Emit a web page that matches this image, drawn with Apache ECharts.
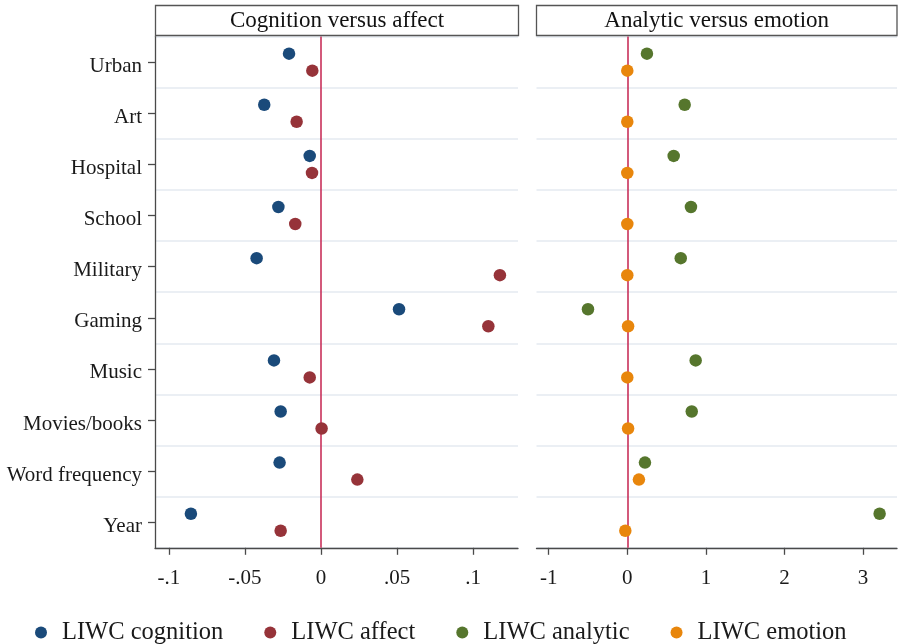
<!DOCTYPE html>
<html>
<head>
<meta charset="utf-8">
<script src="https://cdn.jsdelivr.net/npm/echarts@6/dist/echarts.min.js"></script>
<style>html,body{margin:0;padding:0;background:#fff}#c{width:898px;height:644px}</style>
</head>
<body>
<div id="c"></div>
<script>
const categories = ['Urban','Art','Hospital','School','Military','Gaming','Music','Movies/books','Word frequency','Year'];
const cognition = [-0.021,-0.0373,-0.0074,-0.028,-0.0423,0.0513,-0.0309,-0.0265,-0.0272,-0.0855];
const affect = [-0.0057,-0.016,-0.0059,-0.0169,0.1176,0.110,-0.0074,0.0004,0.0239,-0.0265];
const analytic = [0.25,0.73,0.59,0.81,0.68,-0.50,0.87,0.82,0.225,3.21];
const emotion = [0.0,0.0,0.0,0.0,0.0,0.01,0.0,0.01,0.148,-0.025];
const leftTicks = [-0.1,-0.05,0,0.05,0.1];
const rightTicks = [-1,0,1,2,3];
const panelTitles = ['Cognition versus affect','Analytic versus emotion'];
const seriesNames = ['LIWC cognition','LIWC affect','LIWC analytic','LIWC emotion'];

const FONT = 'Liberation Serif';
const AX = '#4a4a4a';
const GRIDC = '#e5eaf1';
const ZERO = '#c8305a';
const colors = ['#1a4a7a','#963339','#56762d','#e8860c'];

const chart = echarts.init(document.getElementById('c'), null, {renderer:'canvas'});

function fmtLeft(v){
  let s = String(+(+v).toFixed(3));
  return s.replace('0.', '.');
}

const yBase = {
  type:'category', data:categories, inverse:true, boundaryGap:true,
  axisLine:{show:true, onZero:false, lineStyle:{color:AX, width:1.3}},
  axisTick:{show:true, alignWithLabel:true, length:7, lineStyle:{color:AX, width:1.3}},
  axisLabel:{show:true, fontFamily:FONT, fontSize:21, color:'#1a1a1a', margin:13, verticalAlign:'top', lineHeight:8},
  splitLine:{show:true, lineStyle:{color:GRIDC, width:1.5}}
};

const option = {
  animation:false,
  backgroundColor:'#fff',
  textStyle:{fontFamily:FONT},
  grid:[
    {left:155, top:36.6, width:363, height:511.2, containLabel:false},
    {left:536.5, top:36.6, width:360.5, height:511.2, containLabel:false}
  ],
  xAxis:[
    {gridIndex:0, type:'value', min:-0.1091, max:0.1295,
     axisLine:{show:true, onZero:false, lineStyle:{color:AX, width:1.3}},
     axisTick:{show:true, length:7, customValues:leftTicks, lineStyle:{color:AX, width:1.3}},
     axisLabel:{show:true, customValues:leftTicks, formatter:fmtLeft, fontFamily:FONT, fontSize:21, color:'#1a1a1a', margin:20},
     splitLine:{show:false}},
    {gridIndex:1, type:'value', min:-1.155, max:3.431,
     axisLine:{show:true, onZero:false, lineStyle:{color:AX, width:1.3}},
     axisTick:{show:true, length:7, customValues:rightTicks, lineStyle:{color:AX, width:1.3}},
     axisLabel:{show:true, customValues:rightTicks, formatter:v=>String(v), fontFamily:FONT, fontSize:21, color:'#1a1a1a', margin:20},
     splitLine:{show:false}}
  ],
  yAxis:[
    Object.assign({gridIndex:0}, yBase),
    Object.assign({gridIndex:1}, yBase, {
      axisLine:{show:false, onZero:false}, axisTick:{show:false}, axisLabel:{show:false}
    })
  ],
  legend:{
    left:30, top:615, itemGap:41, itemWidth:12, itemHeight:12,
    icon:'circle',
    data:seriesNames,
    textStyle:{fontFamily:FONT, fontSize:24.5, color:'#1a1a1a', padding:[0,0,0,10]}
  },
  graphic:[
    {type:'rect', shape:{x:155.5, y:5.5, width:363, height:30}, style:{fill:'#fff', stroke:'#555', lineWidth:1.3}, z:10},
    {type:'text', x:337, y:20.5, style:{text:panelTitles[0], font:'23px "Liberation Serif"', fill:'#111', textAlign:'center', textVerticalAlign:'middle'}, z:11},
    {type:'rect', shape:{x:536.5, y:5.5, width:360.5, height:30}, style:{fill:'#fff', stroke:'#555', lineWidth:1.3}, z:10},
    {type:'text', x:716.7, y:20.5, style:{text:panelTitles[1], font:'23px "Liberation Serif"', fill:'#111', textAlign:'center', textVerticalAlign:'middle'}, z:11}
  ],
  series:[
    {name:seriesNames[0], type:'scatter', xAxisIndex:0, yAxisIndex:0, symbol:'circle', symbolSize:12.5,
     symbolOffset:[0,-8.5], itemStyle:{color:colors[0], opacity:1}, z:5,
     data:cognition.map((v,i)=>[v, categories[i]]),
     markLine:{silent:true, symbol:['none','none'], label:{show:false}, lineStyle:{color:ZERO, width:1.6, type:'solid'}, data:[{xAxis:0}], z:3}},
    {name:seriesNames[1], type:'scatter', xAxisIndex:0, yAxisIndex:0, symbol:'circle', symbolSize:12.5,
     symbolOffset:[0,8.5], itemStyle:{color:colors[1], opacity:1}, z:5,
     data:affect.map((v,i)=>[v, categories[i]])},
    {name:seriesNames[2], type:'scatter', xAxisIndex:1, yAxisIndex:1, symbol:'circle', symbolSize:12.5,
     symbolOffset:[0,-8.5], itemStyle:{color:colors[2], opacity:1}, z:5,
     data:analytic.map((v,i)=>[v, categories[i]]),
     markLine:{silent:true, symbol:['none','none'], label:{show:false}, lineStyle:{color:ZERO, width:1.6, type:'solid'}, data:[{xAxis:0}], z:3}},
    {name:seriesNames[3], type:'scatter', xAxisIndex:1, yAxisIndex:1, symbol:'circle', symbolSize:12.5,
     symbolOffset:[0,8.5], itemStyle:{color:colors[3], opacity:1}, z:5,
     data:emotion.map((v,i)=>[v, categories[i]])}
  ]
};
chart.setOption(option);
</script>
</body>
</html>
